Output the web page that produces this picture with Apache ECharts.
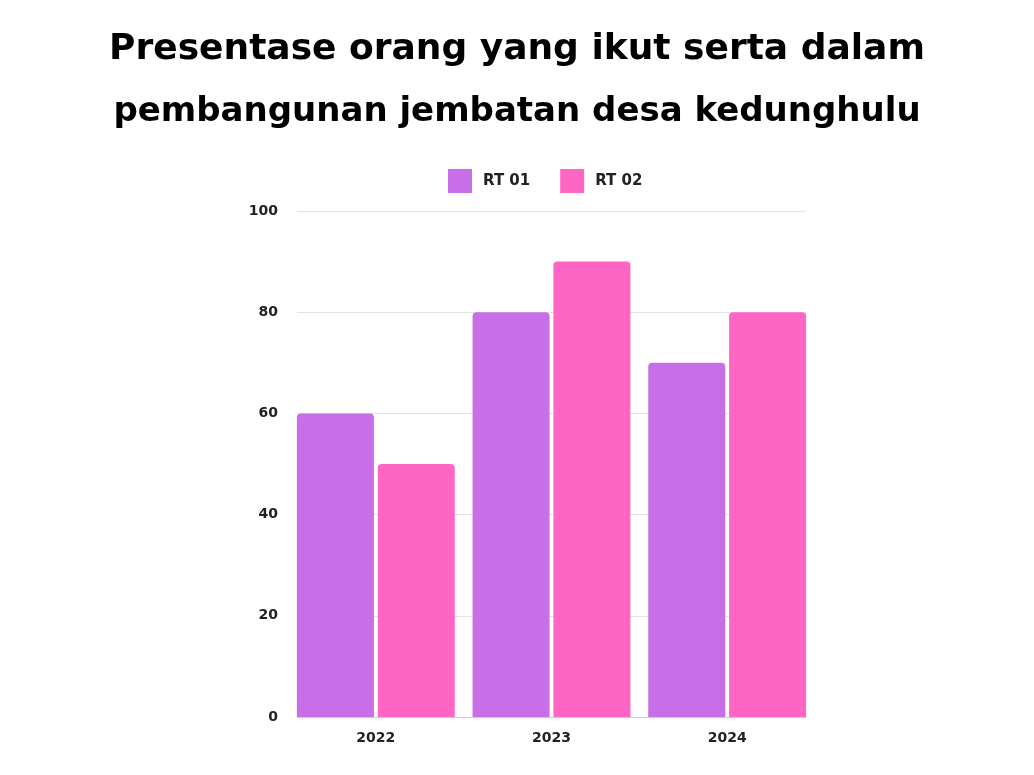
<!DOCTYPE html>
<html>
<head>
<meta charset="utf-8">
<script src="https://cdn.jsdelivr.net/npm/echarts@6/dist/echarts.min.js"></script>
<style>html,body{margin:0;padding:0;background:#fff;}#c{width:1034px;height:775px;}</style>
</head>
<body>
<div id="c"></div>
<script>
const titleLine1 = 'Presentase orang yang ikut serta dalam';
const titleLine2 = 'pembangunan jembatan desa kedunghulu';
const categories = ['2022', '2023', '2024'];
const seriesNames = ['RT 01', 'RT 02'];
const rt01 = [60, 80, 70];
const rt02 = [50, 90, 80];
const colors = ['#c86ee6', '#ff66c4'];

const chart = echarts.init(document.getElementById('c'));
const font = '"DejaVu Sans", sans-serif';
chart.setOption({
  backgroundColor: '#ffffff',
  animation: false,
  title: {
    text: '{a|' + titleLine1 + '}\n{b|' + titleLine2 + '}',
    left: 'center',
    top: 14,
    textStyle: {
      rich: {
        a: { fontFamily: font, fontSize: 36, fontWeight: 'bold', color: '#000', lineHeight: 62 },
        b: { fontFamily: font, fontSize: 34, fontWeight: 'bold', color: '#000', lineHeight: 62 }
      }
    }
  },
  legend: {
    top: 164,
    left: 443,
    itemWidth: 24,
    itemHeight: 24,
    itemGap: 30,
    icon: 'rect',
    data: seriesNames,
    textStyle: { fontFamily: font, fontSize: 15, fontWeight: 'bold', color: '#222', padding: [0, 0, 0, 6] }
  },
  grid: [
    { left: 297, width: 509, top: 211, height: 506 },
    { left: 288, width: 527, top: 211, height: 506 }
  ],
  xAxis: [
    { gridIndex: 0, type: 'value', min: 0, max: 1, axisLine: { show: true, lineStyle: { color: '#cccccc', width: 1 } }, axisTick: { show: false }, axisLabel: { show: false }, splitLine: { show: false } },
    { gridIndex: 1, type: 'category', data: categories, axisLine: { show: false }, axisTick: { show: false }, axisLabel: { margin: 14, fontFamily: font, fontSize: 14, fontWeight: 'bold', color: '#222' } }
  ],
  yAxis: [
    { gridIndex: 0, type: 'value', min: 0, max: 100, interval: 20, axisLine: { show: false }, axisTick: { show: false }, axisLabel: { margin: 19, fontFamily: font, fontSize: 14, fontWeight: 'bold', color: '#222' }, splitLine: { lineStyle: { color: '#e3e3e3', width: 1 } } },
    { gridIndex: 1, type: 'value', min: 0, max: 100, show: false }
  ],
  series: [
    { name: seriesNames[0], type: 'bar', xAxisIndex: 1, yAxisIndex: 1, data: rt01, barWidth: 77, barGap: '5%', itemStyle: { color: colors[0], borderRadius: [4, 4, 0, 0] } },
    { name: seriesNames[1], type: 'bar', xAxisIndex: 1, yAxisIndex: 1, data: rt02, barWidth: 77, barGap: '5%', itemStyle: { color: colors[1], borderRadius: [4, 4, 0, 0] } }
  ]
});
</script>
</body>
</html>
